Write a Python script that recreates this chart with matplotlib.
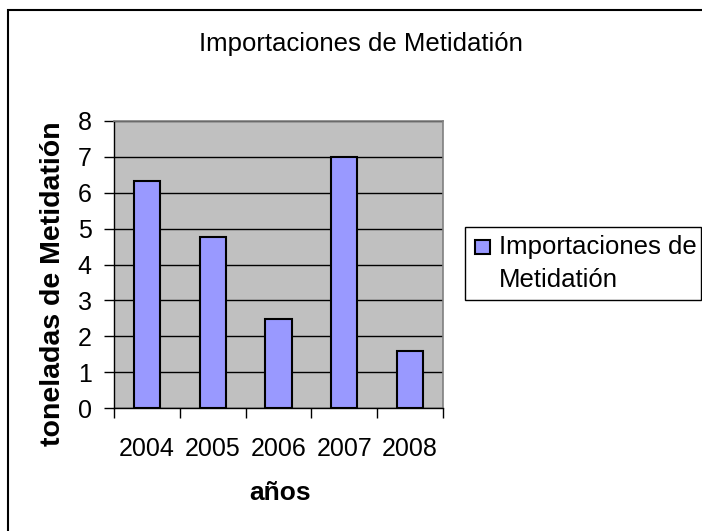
import matplotlib
matplotlib.use("Agg")
import matplotlib.pyplot as plt
import matplotlib.patches as mpatches
import numpy as np

# Data
years = ["2004", "2005", "2006", "2007", "2008"]
imports = [6.33, 4.77, 2.49, 7.0, 1.6]
y_ticks = [0, 1, 2, 3, 4, 5, 6, 7, 8]
series_name = ["Importaciones de", "Metidatión"]

plt.rcParams["font.family"] = ["Liberation Sans", "DejaVu Sans"]

W, H = 702, 531
fig = plt.figure(figsize=(W / 100, H / 100), dpi=100)
fig.patch.set_facecolor("white")


def px(xp, yp):
    # pixel position (from top-left) to figure fraction
    return xp / W, 1 - yp / H


# plot area in pixel coordinates
left, right, top, bottom = 114, 443, 121, 408
ax = fig.add_axes([left / W, 1 - bottom / H, (right - left) / W, (bottom - top) / H])
ax.set_facecolor("#c0c0c0")

x = np.arange(len(years))
bars = ax.bar(x, imports, width=0.4, color="#9999ff", edgecolor="black",
              linewidth=1.5, zorder=3)

ax.set_xlim(-0.5, len(years) - 0.5)
ax.set_ylim(0, 8)
ax.set_yticks(y_ticks)
ax.set_yticklabels([str(t) for t in y_ticks], fontsize=18)
ax.yaxis.grid(True, color="black", linewidth=1.0, zorder=1)
ax.set_axisbelow(True)

# tick marks at category boundaries, labels at centres
ax.set_xticks(np.arange(-0.5, len(years), 1.0))
ax.set_xticklabels([])
ax.set_xticks(x, minor=True)
ax.set_xticklabels(years, minor=True, fontsize=18)
ax.tick_params(axis="x", which="major", direction="out", length=7, width=1)
ax.tick_params(axis="x", which="minor", length=0, pad=21)
ax.tick_params(axis="y", direction="out", length=7, width=1, pad=9)

for side in ["top", "right"]:
    ax.spines[side].set_color("#808080")
    ax.spines[side].set_linewidth(1.2)
for side in ["left", "bottom"]:
    ax.spines[side].set_color("black")
    ax.spines[side].set_linewidth(1.0)

ax.set_xlabel("años", fontsize=19, fontweight="bold", va="center")
ax.xaxis.set_label_coords((280 - left) / (right - left), (bottom - 493) / (bottom - top))
ax.set_ylabel("toneladas de Metidatión", fontsize=20.5, fontweight="bold", va="center")
ax.yaxis.set_label_coords((53 - left) / (right - left), (bottom - 284) / (bottom - top))

fig.text(*px(361, 44), "Importaciones de Metidatión", fontsize=18.5,
         ha="center", va="center")

# legend box drawn by hand so the key sits beside the first line
leg_box = mpatches.Rectangle(px(465, 300), (701 - 465) / W, (300 - 227) / H,
                             transform=fig.transFigure, facecolor="white",
                             edgecolor="black", linewidth=1.0)
fig.patches.append(leg_box)
key = mpatches.Rectangle(px(475, 254), 15 / W, 14 / H,
                         transform=fig.transFigure, facecolor=bars[0].get_facecolor(),
                         edgecolor="black", linewidth=1.5)
fig.patches.append(key)
fig.text(*px(499, 247), series_name[0], fontsize=18.5, ha="left", va="center")
fig.text(*px(499, 280), series_name[1], fontsize=18.5, ha="left", va="center")

# outer chart border (right and bottom edges fall outside the image)
border = mpatches.Rectangle((8 / W, -0.1), 1.2, 1.1 - 10 / H,
                            transform=fig.transFigure, fill=False,
                            edgecolor="black", linewidth=1.5, clip_on=False)
fig.patches.append(border)

fig.savefig("out.png", dpi=100)
